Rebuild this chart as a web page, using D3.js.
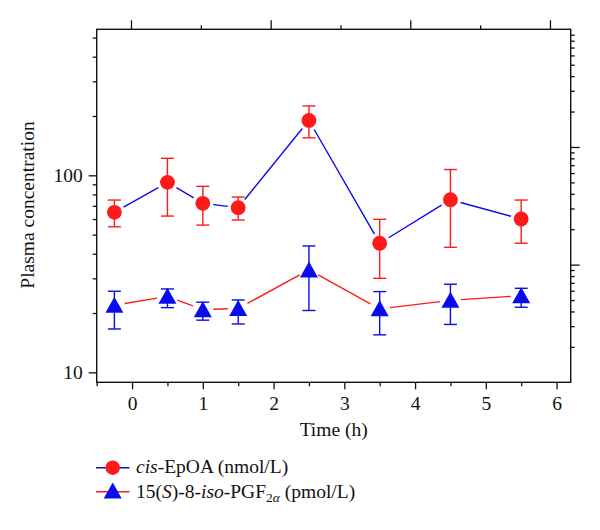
<!DOCTYPE html>
<html>
<head>
<meta charset="utf-8">
<script src="https://cdn.jsdelivr.net/npm/d3@7"></script>
<style>
  html, body { margin: 0; padding: 0; background: #fff; }
  svg text { font-family: "Liberation Serif", "Times New Roman", serif; fill: #111; }
</style>
</head>
<body>
<svg id="chart" width="600" height="530"></svg>
<script>
// ---------------- data ----------------
const times = [-0.25, 0.5, 1, 1.5, 2.5, 3.5, 4.5, 5.5];

const epoa   = [64.9, 92.1, 72.1, 68.5, 190, 45.2, 75.2, 60.0];
const epoaHi = [74.9, 122, 87.9, 77.6, 225, 59.8, 107, 74.9];
const epoaLo = [54.8, 62.1, 55.9, 59.3, 155, 30.0, 43.1, 45.2];

const iso   = [21.9, 24.3, 20.8, 21.1, 33.1, 21.0, 23.2, 24.5];
const isoHi = [25.8, 26.5, 22.7, 23.3, 43.8, 25.7, 28.0, 26.7];
const isoLo = [16.6, 21.3, 18.4, 17.6, 20.6, 15.5, 17.5, 21.4];

const xMajorTicks = [0, 1, 2, 3, 4, 5, 6];
const xMinorTicks = [-0.5, 0.5, 1.5, 2.5, 3.5, 4.5, 5.5];
const topMajorTicks = [0, 2, 4, 6];
const topMinorTicks = [1, 3, 5];
const yMajorTicks = [10, 100];
const yMinorTicks = [20, 30, 40, 50, 60, 70, 80, 90, 200, 300, 400, 500];
const rMajorTicks = [10, 100];
const rMinorTicks = [2, 3, 4, 5, 6, 7, 8, 9, 20, 30, 40, 50, 60, 70, 80, 90, 200, 300, 400, 500, 600, 700, 800, 900];

const legendLabels = ["cis-EpOA (nmol/L)", "15(S)-8-iso-PGF2α (pmol/L)"];
const xTitle = "Time (h)";
const yTitle = "Plasma concentration";

// ---------------- layout ----------------
const L = 96.7, R = 570.7, T = 29.3, B = 382.3;
const RED = "#ff1a1a", BLUE = "#0a0af0";
const svg = d3.select("#chart");
svg.append("rect").attr("width", 600).attr("height", 530).attr("fill", "#fff");

const x = d3.scaleLinear().domain([-0.5, 6.2]).range([L, R]);
const xTop = d3.scaleLinear().domain([-0.491, 6.297]).range([L, R]);
const y = d3.scaleLog().domain([8.9, 551]).range([B, T]);
const yR = d3.scaleLog().domain([1, 1000]).range([B, T]);

function styleAxis(g) {
  g.select(".domain").remove();
  g.selectAll(".tick line").attr("stroke", "#111").attr("stroke-width", 1.3);
}

// bottom axis
svg.append("g").attr("transform", `translate(0,${B})`)
  .call(d3.axisBottom(x).tickValues(xMajorTicks).tickSize(7).tickPadding(7).tickFormat(d3.format("d")))
  .call(styleAxis)
  .call(g => g.selectAll("text").attr("font-size", 19.5).attr("font-family", "Liberation Serif").attr("fill", "#111"));
svg.append("g").attr("transform", `translate(0,${B})`)
  .call(d3.axisBottom(x).tickValues(xMinorTicks).tickSize(4).tickFormat(""))
  .call(styleAxis);

// top axis
svg.append("g").attr("transform", `translate(0,${T})`)
  .call(d3.axisTop(xTop).tickValues(topMajorTicks).tickSize(9).tickFormat(""))
  .call(styleAxis);
svg.append("g").attr("transform", `translate(0,${T})`)
  .call(d3.axisTop(xTop).tickValues(topMinorTicks).tickSize(4).tickFormat(""))
  .call(styleAxis);

// left axis
svg.append("g").attr("transform", `translate(${L},0)`)
  .call(d3.axisLeft(y).tickValues(yMajorTicks).tickSize(8).tickPadding(6).tickFormat(d3.format("d")))
  .call(styleAxis)
  .call(g => g.selectAll("text").attr("font-size", 19.5).attr("font-family", "Liberation Serif").attr("fill", "#111"));
svg.append("g").attr("transform", `translate(${L},0)`)
  .call(d3.axisLeft(y).tickValues(yMinorTicks).tickSize(4).tickFormat(""))
  .call(styleAxis);

// right axis
svg.append("g").attr("transform", `translate(${R},0)`)
  .call(d3.axisRight(yR).tickValues(rMajorTicks).tickSize(9).tickFormat(""))
  .call(styleAxis);
svg.append("g").attr("transform", `translate(${R},0)`)
  .call(d3.axisRight(yR).tickValues(rMinorTicks).tickSize(4).tickFormat(""))
  .call(styleAxis);

// frame
svg.append("rect").attr("x", L).attr("y", T).attr("width", R - L).attr("height", B - T)
  .attr("fill", "none").attr("stroke", "#111").attr("stroke-width", 1.4);

// axis titles
svg.append("text").attr("x", (L + R) / 2).attr("y", 436).attr("text-anchor", "middle")
  .attr("font-size", 19.5).text(xTitle);
svg.append("text").attr("transform", "translate(34,205) rotate(-90)").attr("text-anchor", "middle")
  .attr("font-size", 19.5).text(yTitle);

// ---------------- series ----------------
const triPath = "M0,-8.5L9,7.5L-9,7.5Z";

function gappedSegments(vals, gap) {
  const segs = [];
  for (let i = 0; i < vals.length - 1; i++) {
    const x1 = x(times[i]), y1 = y(vals[i]), x2 = x(times[i + 1]), y2 = y(vals[i + 1]);
    const dx = x2 - x1, dy = y2 - y1, len = Math.hypot(dx, dy);
    if (len <= 2 * gap) continue;
    const ux = dx / len, uy = dy / len;
    segs.push([x1 + ux * gap, y1 + uy * gap, x2 - ux * gap, y2 - uy * gap]);
  }
  return segs;
}

function drawSeries(vals, hi, lo, lineColor, markColor, marker, gap) {
  const g = svg.append("g");
  g.selectAll("line.conn").data(gappedSegments(vals, gap)).join("line")
    .attr("x1", d => d[0]).attr("y1", d => d[1]).attr("x2", d => d[2]).attr("y2", d => d[3])
    .attr("stroke", lineColor).attr("stroke-width", 1.4);
  const idx = d3.range(times.length);
  const cap = 6.5;
  g.selectAll("line.err").data(idx).join("line")
    .attr("x1", i => x(times[i])).attr("x2", i => x(times[i]))
    .attr("y1", i => y(hi[i])).attr("y2", i => y(lo[i]))
    .attr("stroke", markColor).attr("stroke-width", 1.4);
  g.selectAll("line.caphi").data(idx).join("line")
    .attr("x1", i => x(times[i]) - cap).attr("x2", i => x(times[i]) + cap)
    .attr("y1", i => y(hi[i])).attr("y2", i => y(hi[i]))
    .attr("stroke", markColor).attr("stroke-width", 1.4);
  g.selectAll("line.caplo").data(idx).join("line")
    .attr("x1", i => x(times[i]) - cap).attr("x2", i => x(times[i]) + cap)
    .attr("y1", i => y(lo[i])).attr("y2", i => y(lo[i]))
    .attr("stroke", markColor).attr("stroke-width", 1.4);
  if (marker === "circle") {
    g.selectAll("circle").data(idx).join("circle")
      .attr("cx", i => x(times[i])).attr("cy", i => y(vals[i])).attr("r", 7.4)
      .attr("fill", markColor);
  } else {
    g.selectAll("path").data(idx).join("path")
      .attr("transform", i => `translate(${x(times[i])},${y(vals[i])})`)
      .attr("d", triPath).attr("fill", markColor);
  }
}

drawSeries(epoa, epoaHi, epoaLo, BLUE, RED, "circle", 10.5);
drawSeries(iso, isoHi, isoLo, RED, BLUE, "tri", 10.5);

// ---------------- legend ----------------
const lg = svg.append("g");
lg.append("line").attr("x1", 96).attr("x2", 129.5).attr("y1", 467.7).attr("y2", 467.7)
  .attr("stroke", BLUE).attr("stroke-width", 1.4);
lg.append("circle").attr("cx", 112.7).attr("cy", 467.7).attr("r", 7.2).attr("fill", RED);
lg.append("line").attr("x1", 96).attr("x2", 129.5).attr("y1", 491.7).attr("y2", 491.7)
  .attr("stroke", RED).attr("stroke-width", 1.4);
lg.append("path").attr("transform", "translate(112.7,491)").attr("d", triPath).attr("fill", BLUE);

const t1 = lg.append("text").attr("x", 136).attr("y", 473).attr("font-size", 19.5);
t1.append("tspan").attr("font-style", "italic").text("cis");
t1.append("tspan").text("-EpOA (nmol/L)");

const t2 = lg.append("text").attr("x", 136).attr("y", 497.5).attr("font-size", 19.5);
t2.append("tspan").text("15(");
t2.append("tspan").attr("font-style", "italic").text("S");
t2.append("tspan").text(")-8-");
t2.append("tspan").attr("font-style", "italic").text("iso");
t2.append("tspan").text("-PGF");
t2.append("tspan").attr("font-size", 13.5).attr("dy", 4).text("2");
t2.append("tspan").attr("font-size", 13.5).attr("font-style", "italic").text("α");
t2.append("tspan").attr("dy", -4).text(" (pmol/L)");
</script>
</body>
</html>
